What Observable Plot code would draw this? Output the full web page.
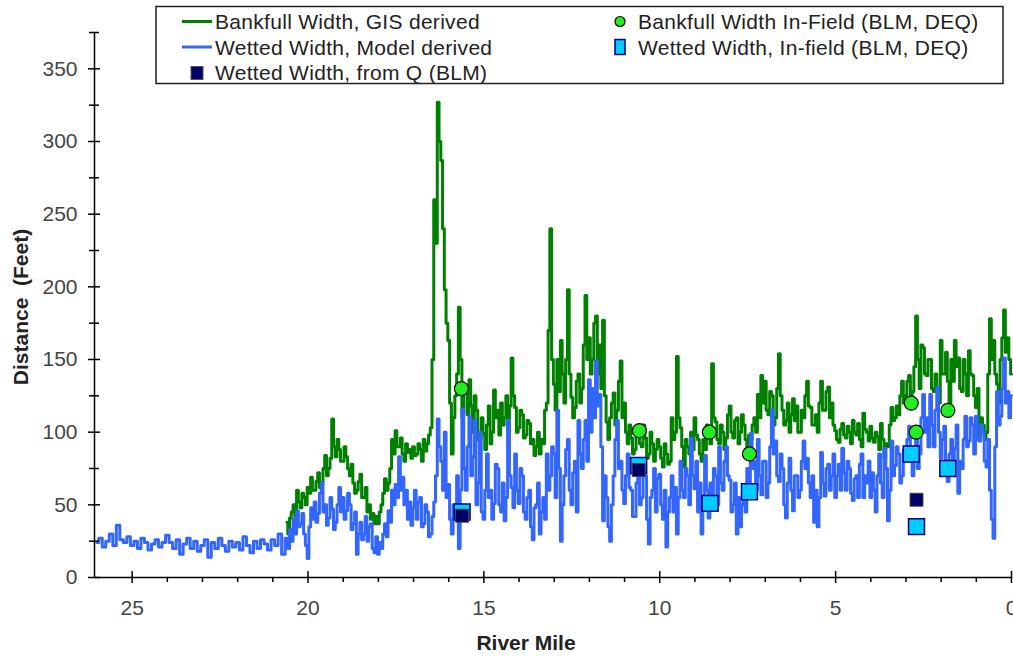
<!DOCTYPE html>
<html>
<head>
<meta charset="utf-8">
<script src="https://cdn.jsdelivr.net/npm/d3@7"></script>
<script src="https://cdn.jsdelivr.net/npm/@observablehq/plot@0.6"></script>
<style>
  body { margin: 0; background: #fff; font-family: Arial, "Liberation Sans", sans-serif; }
  #wrap { position: relative; width: 1013px; height: 656px; overflow: hidden; }
  #overlay { position: absolute; left: 0; top: 0; pointer-events: none; }
</style>
</head>
<body>
<div id="wrap"></div>
<script>
// ---------- data ----------
// Wetted Width, Model derived, upstream reach: every 0.1 river mile from 26.0 down to 20.7
const upstreamStart = 26.0;
const upstreamStep = 0.1;
const wettedUpstreamWidth = [
  24, 27, 21, 25, 30, 22, 36, 26, 24, 28,
  22, 25, 20, 27, 24, 19, 23, 26, 21, 24,
  29, 24, 20, 26, 16, 23, 27, 20, 25, 18,
  22, 26, 14, 24, 20, 27, 22, 18, 25, 21,
  24, 19, 28, 22, 17, 25, 20, 26, 23, 19,
  26, 22, 30, 16
];
// Downstream reach: every 0.05 river mile from 20.6 down to 0.0
const downstreamStart = 20.6;
const downstreamStep = 0.05;
// Wetted Width, Model derived
const wettedDownstreamWidth = [
  27, 20, 33, 25, 40, 30, 46, 35, 37, 44, 30, 22,
  13, 35, 48, 40, 52, 38, 44, 58, 65, 45, 50, 36, 41, 55, 47, 33, 38, 50, 62, 45,
  55, 40, 46, 58, 50, 33, 37, 45, 16, 30, 38, 26, 30, 42, 25, 35, 37, 20, 17, 28,
  16, 24, 20, 30, 37, 28, 46, 38, 60, 50, 64, 55, 83, 60, 69, 50, 60, 40, 52, 36,
  48, 60, 40, 52, 55, 35, 37, 50, 45, 28, 30, 42, 52, 70, 109, 90, 80, 60, 100, 55,
  64, 40, 30, 50, 45, 70, 20, 60, 116, 75, 60, 90, 111, 70, 83, 108, 50, 65, 100, 45,
  40, 60, 85, 55, 60, 40, 51, 78, 75, 50, 45, 65, 39, 55, 108, 70, 62, 48, 85, 60,
  51, 75, 70, 45, 40, 55, 60, 35, 26, 48, 50, 65, 30, 45, 55, 40, 85, 60, 70, 90,
  85, 55, 115, 75, 25, 50, 70, 88, 95, 60, 50, 72, 80, 45, 108, 85, 75, 95, 108, 80,
  136, 100, 130, 110, 149, 118, 126, 90, 39, 70, 55, 35, 25, 50, 70, 95, 108, 75, 80, 60,
  51, 70, 85, 62, 60, 42, 42, 65, 74, 50, 55, 80, 70, 40, 23, 55, 60, 75, 45, 68,
  71, 50, 40, 60, 21, 45, 55, 70, 45, 62, 30, 55, 80, 60, 55, 75, 70, 50, 96, 70,
  61, 80, 45, 65, 30, 50, 84, 60, 41, 65, 55, 75, 70, 50, 90, 65, 60, 80, 90, 70,
  67, 45, 50, 65, 30, 55, 35, 50, 60, 45, 75, 60, 99, 75, 80, 60, 95, 70, 57, 80,
  80, 55, 65, 90, 115, 85, 94, 70, 66, 85, 75, 50, 41, 65, 82, 60, 46, 70, 70, 55,
  60, 80, 94, 75, 82, 65, 55, 70, 38, 60, 35, 55, 86, 65, 56, 75, 78, 60, 70, 85,
  55, 70, 78, 60, 89, 72, 60, 80, 75, 58, 53, 68, 70, 55, 78, 85, 55, 70, 65, 80,
  55, 72, 60, 45, 70, 85, 65, 55, 89, 75, 39, 60, 94, 70, 77, 90, 85, 65, 70, 88,
  80, 95, 104, 80, 70, 90, 95, 75, 85, 110, 126, 100, 110, 90, 126, 105, 90, 115, 131, 100,
  82, 95, 104, 80, 66, 85, 95, 75, 89, 105, 58, 80, 75, 95, 111, 90, 94, 110, 105, 85,
  111, 95, 94, 105, 100, 80, 76, 95, 60, 40, 27, 90, 128, 105, 111, 130, 151, 120, 128, 110,
  125
];
// Bankfull Width, GIS derived
const bankfullGisWidth = [
  38, 30, 41, 45, 50, 42, 60, 52, 48, 58, 55, 50,
  62, 58, 69, 60, 60, 66, 72, 62, 65, 75, 84, 70, 75, 82, 109, 90, 83, 95, 88, 80,
  80, 90, 83, 75, 70, 78, 65, 58, 60, 66, 71, 55, 55, 62, 45, 50, 40, 44, 37, 42,
  37, 45, 50, 58, 68, 60, 65, 75, 95, 85, 101, 90, 90, 96, 85, 80, 92, 86, 88, 82,
  90, 84, 85, 92, 88, 80, 95, 87, 92, 98, 103, 150, 260, 230, 327, 300, 287, 240, 198, 175,
  163, 120, 85, 110, 125, 140, 186, 150, 110, 128, 129, 112, 136, 118, 100, 125, 115, 95, 96, 110,
  99, 88, 105, 118, 92, 100, 129, 110, 115, 98, 120, 105, 110, 125, 100, 118, 151, 125, 117, 100,
  103, 115, 112, 96, 98, 108, 106, 92, 95, 84, 90, 100, 85, 95, 92, 115, 120, 170, 240, 150,
  133, 115, 150, 128, 163, 140, 120, 150, 198, 140, 124, 110, 117, 135, 140, 120, 130, 160, 194, 150,
  165, 140, 150, 175, 180, 140, 160, 130, 177, 125, 107, 95, 110, 120, 127, 105, 115, 135, 149, 110,
  120, 100, 92, 105, 96, 85, 88, 98, 100, 92, 90, 105, 96, 82, 85, 100, 92, 80, 88, 95,
  90, 82, 76, 92, 85, 78, 80, 110, 95, 100, 152, 110, 103, 90, 76, 95, 90, 85, 100, 88,
  110, 98, 95, 85, 80, 95, 88, 105, 100, 92, 147, 110, 107, 95, 92, 105, 100, 88, 96, 112,
  118, 100, 96, 108, 110, 92, 100, 112, 105, 95, 85, 98, 95, 105, 110, 100, 126, 110, 139, 120,
  135, 115, 112, 128, 125, 105, 110, 130, 154, 125, 115, 105, 108, 120, 100, 112, 123, 108, 118, 100,
  100, 115, 110, 125, 135, 118, 117, 105, 105, 112, 100, 120, 135, 115, 115, 128, 131, 110, 120, 105,
  101, 95, 93, 102, 106, 98, 96, 104, 100, 92, 108, 100, 98, 106, 95, 90, 113, 102, 100, 94,
  104, 96, 93, 100, 97, 88, 106, 95, 82, 92, 90, 105, 117, 108, 110, 118, 112, 125, 135, 120,
  125, 135, 139, 125, 128, 145, 180, 150, 130, 160, 158, 140, 139, 150, 150, 130, 128, 140, 130, 120,
  163, 140, 140, 155, 135, 120, 150, 135, 163, 145, 151, 130, 128, 150, 140, 125, 156, 140, 139, 125,
  117, 130, 97, 110, 105, 95, 100, 140, 178, 150, 163, 140, 133, 120, 150, 165, 184, 155, 165, 150,
  140
];

// Bankfull Width In-Field (BLM, DEQ)
const bankfullFieldMile  = [15.64, 10.58, 8.59, 7.45, 2.85, 2.71, 1.81];
const bankfullFieldWidth = [130, 101, 100, 85, 120, 100, 115];
// Wetted Width, In-field (BLM, DEQ)
const wettedFieldMile  = [15.62, 10.60, 8.57, 7.45, 2.85, 2.70, 1.81];
const wettedFieldWidth = [45, 77, 51, 59, 85, 35, 75];
// Wetted Width, from Q (BLM)
const wettedQMile  = [15.62, 10.60, 2.70];
const wettedQWidth = [42.5, 74, 53.5];

// ticks
const xMajorTicks = [25, 20, 15, 10, 5, 0];
const xMinorTicks = [24, 23, 22, 21, 19, 18, 17, 16, 14, 13, 12, 11, 9, 8, 7, 6, 4, 3, 2, 1];
const yMajorTicks = [0, 50, 100, 150, 200, 250, 300, 350];
const yMinorTicks = [25, 75, 125, 175, 225, 275, 325, 375];
const xDomain = [26.07, 0];
const yDomain = [0, 375];

// ---------- tables ----------
const upstream = wettedUpstreamWidth.map((w, i) => ({mile: +(upstreamStart - i * upstreamStep).toFixed(2), width: w}));
const wettedModel = upstream.concat(wettedDownstreamWidth.map((w, i) => ({mile: +(downstreamStart - i * downstreamStep).toFixed(2), width: w})));
const bankfullGis = bankfullGisWidth.map((w, i) => ({mile: +(downstreamStart - i * downstreamStep).toFixed(2), width: w}));
const bankfullField = bankfullFieldMile.map((m, i) => ({mile: m, width: bankfullFieldWidth[i]}));
const wettedField = wettedFieldMile.map((m, i) => ({mile: m, width: wettedFieldWidth[i]}));
const wettedQ = wettedQMile.map((m, i) => ({mile: m, width: wettedQWidth[i]}));

const GREEN = "#008000", BLUE = "#3366ff";
const tickFont = 21;

const chart = Plot.plot({
  width: 1013,
  height: 656,
  marginLeft: 94,
  marginRight: 2,
  marginTop: 32,
  marginBottom: 79,
  x: {domain: xDomain},
  y: {domain: yDomain},
  style: {fontFamily: "Arial, 'Liberation Sans', sans-serif", background: "#fff", color: "#000"},
  marks: [
    Plot.line(bankfullGis, {x: "mile", y: "width", stroke: GREEN, strokeWidth: 3, curve: "step"}),
    Plot.line(wettedModel, {x: "mile", y: "width", stroke: BLUE, strokeWidth: 3, curve: "step"}),
    // axis lines
    Plot.ruleX([xDomain[0]], {stroke: "#000", strokeWidth: 1.5}),
    Plot.ruleY([0], {stroke: "#000", strokeWidth: 1.5}),
    // x ticks
    Plot.axisX(xMajorTicks, {tickSize: 12, dy: -6, tickFormat: () => "", label: null, stroke: "#000", strokeWidth: 1.5}),
    Plot.axisX(xMinorTicks, {tickSize: 5, tickFormat: () => "", label: null, stroke: "#000", strokeWidth: 1.5}),
    Plot.axisX(xMajorTicks, {tickSize: 0, tickPadding: 23, fontSize: tickFont, fill: "#444", label: null, tickFormat: d => String(d)}),
    // y ticks
    Plot.axisY(yMajorTicks, {tickSize: 12, dx: 6, tickFormat: () => "", label: null, stroke: "#000", strokeWidth: 1.5}),
    Plot.axisY(yMinorTicks, {tickSize: 10, dx: 5, tickFormat: () => "", label: null, stroke: "#000", strokeWidth: 1.5}),
    Plot.axisY(yMajorTicks, {tickSize: 0, tickPadding: 17, fontSize: tickFont, fill: "#444", label: null, tickFormat: d => String(d)}),
    // field points
    Plot.dot(bankfullField, {x: "mile", y: "width", r: 7, fill: "#22ee22", stroke: "#000", strokeWidth: 1.2}),
    Plot.dot(wettedField, {x: "mile", y: "width", symbol: "square", r: 9, fill: "#00ccff", stroke: "#000080", strokeWidth: 1.5}),
    Plot.dot(wettedQ, {x: "mile", y: "width", symbol: "square", r: 7.3, fill: "#000066", stroke: "#444", strokeWidth: 1})
  ]
});

const wrap = document.getElementById("wrap");
wrap.appendChild(chart);

// ---------- overlay: legend and axis titles ----------
const legendLeft = [
  {label: "Bankfull Width, GIS derived", kind: "line", color: GREEN},
  {label: "Wetted Width, Model derived", kind: "line", color: BLUE},
  {label: "Wetted Width, from Q (BLM)", kind: "navy"}
];
const legendRight = [
  {label: "Bankfull Width In-Field (BLM, DEQ)", kind: "circle"},
  {label: "Wetted Width, In-field (BLM, DEQ)", kind: "lightsq"}
];
const rowY = [21.5, 47, 72.5];

const ns = "http://www.w3.org/2000/svg";
const ov = document.createElementNS(ns, "svg");
ov.setAttribute("id", "overlay");
ov.setAttribute("width", 1013);
ov.setAttribute("height", 656);
function el(tag, attrs, text) {
  const e = document.createElementNS(ns, tag);
  for (const k in attrs) e.setAttribute(k, attrs[k]);
  if (text != null) e.textContent = text;
  ov.appendChild(e);
  return e;
}
el("rect", {x: 156, y: 6.5, width: 847, height: 77, fill: "#fff", stroke: "#222", "stroke-width": 1.5});
const legFont = {"font-family": "Arial, 'Liberation Sans', sans-serif", "font-size": 21, fill: "#222", "letter-spacing": 0.3};
legendLeft.forEach((d, i) => {
  const cy = rowY[i];
  if (d.kind === "line") el("line", {x1: 182, x2: 212, y1: cy, y2: cy, stroke: d.color, "stroke-width": 3});
  else el("rect", {x: 191, y: cy - 6, width: 12, height: 13, fill: "#000066", stroke: "#555", "stroke-width": 1});
  el("text", {...legFont, x: 215, y: cy + 7.5}, d.label);
});
legendRight.forEach((d, i) => {
  const cy = rowY[i];
  if (d.kind === "circle") el("circle", {cx: 620, cy: cy, r: 5, fill: "#22ee22", stroke: "#000", "stroke-width": 1.2});
  else el("rect", {x: 615, y: cy - 7.5, width: 10, height: 15, fill: "#00ccff", stroke: "#000080", "stroke-width": 1.5});
  el("text", {...legFont, x: 638, y: cy + 7.5}, d.label);
});
el("text", {"font-family": "Arial, 'Liberation Sans', sans-serif", "font-size": 21, "font-weight": "bold", fill: "#222",
  "text-anchor": "middle", style: "white-space: pre", transform: "translate(28,307) rotate(-90)"}, "Distance  (Feet)");
el("text", {"font-family": "Arial, 'Liberation Sans', sans-serif", "font-size": 21, "font-weight": "bold", fill: "#222",
  "text-anchor": "middle", x: 526, y: 650}, "River Mile");
wrap.appendChild(ov);
</script>
</body>
</html>
